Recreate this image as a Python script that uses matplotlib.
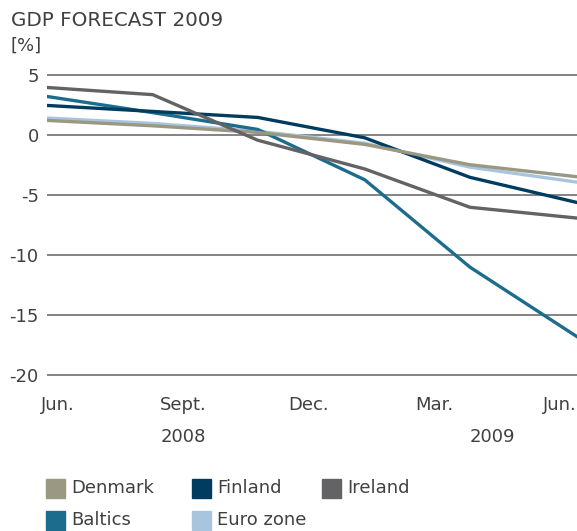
import matplotlib
matplotlib.use('Agg')
import matplotlib.pyplot as plt
from matplotlib.patches import Rectangle

# forecast dates, in months after Jun. 2008
months = [-0.26, 2.27, 4.78, 7.34, 9.86, 12.42]

denmark = [1.25, 0.8, 0.25, -0.75, -2.45, -3.45]
finland = [2.5, 2.0, 1.5, -0.2, -3.5, -5.6]
ireland = [4.0, 3.4, -0.4, -2.8, -6.0, -6.9]
baltics = [3.25, 1.9, 0.5, -3.7, -11.0, -16.8]
euro_zone = [1.45, 1.0, 0.35, -0.65, -2.65, -3.9]

tick_months = [0, 3, 6, 9, 12]
tick_labels = ['Jun.', 'Sept.', 'Dec.', 'Mar.', 'Jun.']
year_labels = ['2008', '2009']
year_months = [3.0, 10.4]
y_ticks = [5, 0, -5, -10, -15, -20]

COLORS = {
    'Denmark': '#9a9782',
    'Finland': '#003c5f',
    'Ireland': '#636365',
    'Baltics': '#1c6d8d',
    'Euro zone': '#a9c5dd',
}
TEXT = '#404040'
FS = 13

plt.rcParams['font.family'] = ['DejaVu Sans']
plt.rcParams['axes.unicode_minus'] = False

W, H = 577, 531
fig = plt.figure(figsize=(W / 100, H / 100), dpi=100)
ax = fig.add_axes([47 / W, (H - 381) / H, 530 / W, 311.5 / H])
ax.set_xlim(months[0], months[-1])
ax.set_ylim(-20.5, 5.5)

for y in y_ticks:
    ax.axhline(y, color='#6e6e6e', lw=1.2, zorder=1)

series = [('Euro zone', euro_zone), ('Baltics', baltics), ('Finland', finland),
          ('Denmark', denmark), ('Ireland', ireland)]
for name, vals in series:
    ax.plot(months, vals, color=COLORS[name], lw=2.4, solid_joinstyle='miter',
            zorder=3)

for s in ax.spines.values():
    s.set_visible(False)
ax.set_yticks(y_ticks)
ax.set_yticklabels([str(v) for v in y_ticks])
ax.set_xticks(tick_months)
ax.set_xticklabels(tick_labels)
ax.tick_params(axis='y', length=0, pad=6, labelsize=FS, labelcolor=TEXT)
ax.tick_params(axis='x', length=0, pad=11, labelsize=FS, labelcolor=TEXT)

for lab, m in zip(year_labels, year_months):
    ax.text(m, -0.18, lab, transform=ax.get_xaxis_transform(), ha='center',
            va='center', fontsize=FS, color=TEXT)

fig.text(11 / W, 1 - 20 / H, 'GDP FORECAST 2009', ha='left', va='center',
         fontsize=14.3, color=TEXT)
fig.text(11 / W, 1 - 46 / H, '[%]', ha='left', va='center', fontsize=FS,
         color=TEXT)

# legend: coloured squares with labels
legend_items = [('Denmark', 46, 488), ('Finland', 192, 488), ('Ireland', 322, 488),
                ('Baltics', 46, 520), ('Euro zone', 192, 520)]
sq = 19
for name, x, yc in legend_items:
    fig.add_artist(Rectangle((x / W, 1 - (yc + sq / 2) / H), sq / W, sq / H,
                             transform=fig.transFigure, color=COLORS[name]))
    fig.text((x + sq + 6) / W, 1 - yc / H, name, ha='left', va='center',
             fontsize=FS, color=TEXT)

fig.savefig('out.png', dpi=100)
